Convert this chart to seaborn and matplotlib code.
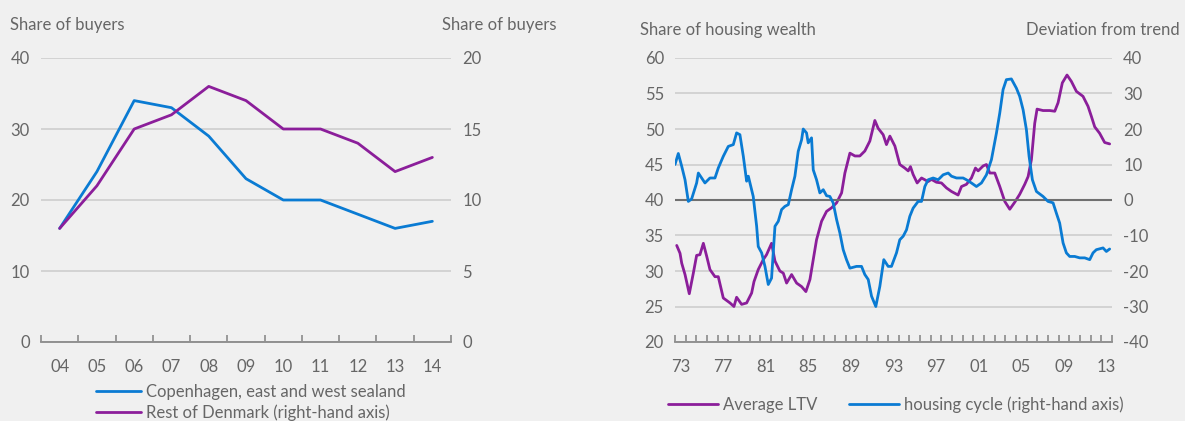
import matplotlib
matplotlib.use("Agg")
import matplotlib.pyplot as plt
import seaborn as sns
import numpy as np
import pandas as pd

sns.set_style("white")
plt.rcParams["font.family"] = ["Lato", "DejaVu Sans"]
plt.rcParams["axes.unicode_minus"] = False

BG = "#f0f0f0"
BLUE = "#0a7bd3"
PURPLE = "#8b1e9a"
TXT = "#666666"
GRID = "#d3d3d3"

# left panel: share of buyers
buyer_years = ["04", "05", "06", "07", "08", "09", "10", "11", "12", "13", "14"]
copenhagen = [16, 24, 34, 33, 29, 23, 20, 20, 18, 16, 17]
rest_of_dk = [8, 11, 15, 16, 18, 17, 15, 15, 14, 12, 13]

# right panel: average LTV (left axis)
ltv_time = [1973.16, 1973.47, 1973.63, 1973.94, 1974.34, 1974.72, 1975.03, 1975.34, 1975.66, 1975.97,
            1976.28, 1976.75, 1977.06, 1977.53, 1978.16, 1978.53, 1978.78, 1979.25, 1979.72, 1980.19,
            1980.41, 1980.81, 1981.28, 1981.59, 1982.06, 1982.38, 1982.84, 1983.16, 1983.47, 1983.94,
            1984.41, 1984.88, 1985.28, 1985.66, 1985.97, 1986.28, 1986.75, 1987.22, 1987.69, 1988.16,
            1988.63, 1988.94, 1989.41, 1989.88, 1990.34, 1990.81, 1991.28, 1991.75, 1992.06, 1992.53,
            1992.84, 1993.16, 1993.63, 1994.09, 1994.56, 1994.88, 1995.09, 1995.34, 1995.72, 1996.13,
            1996.75, 1997.06, 1997.53, 1998.0, 1998.47, 1998.94, 1999.56, 1999.88, 2000.34, 2000.81,
            2001.19, 2001.44, 2001.91, 2002.22, 2002.53, 2003.0, 2003.47, 2003.94, 2004.41, 2004.88,
            2005.34, 2005.81, 2006.13, 2006.44, 2006.75, 2006.97, 2007.53, 2008.16, 2008.63, 2008.94,
            2009.34, 2009.78, 2010.19, 2010.66, 2011.28, 2011.75, 2012.06, 2012.38, 2012.84, 2013.31,
            2013.78]
ltv = [33.6, 32.5, 31.1, 29.5, 26.8, 29.7, 32.2, 32.3, 33.9, 32.1,
       30.2, 29.2, 29.2, 26.2, 25.5, 25.0, 26.3, 25.3, 25.5, 26.9,
       28.5, 30.2, 31.6, 32.3, 33.9, 31.4, 30.0, 29.7, 28.3, 29.5,
       28.3, 27.8, 27.1, 28.8, 31.6, 34.4, 37.0, 38.4, 38.9, 39.6,
       41.0, 43.8, 46.6, 46.2, 46.2, 46.9, 48.3, 51.2, 50.1, 49.2,
       47.8, 49.0, 47.6, 45.0, 44.5, 44.1, 44.7, 43.6, 42.4, 43.1,
       42.6, 42.9, 42.5, 42.4, 41.7, 41.2, 40.7, 41.9, 42.2, 43.1,
       44.5, 44.1, 44.8, 45.0, 43.8, 43.8, 41.9, 39.8, 38.7, 39.7,
       40.8, 42.2, 43.3, 45.7, 50.8, 52.8, 52.6, 52.6, 52.5, 53.7,
       56.5, 57.6, 56.7, 55.3, 54.6, 53.2, 51.8, 50.3, 49.4, 48.1,
       47.9]

# right panel: housing cycle, deviation from trend (right axis)
cycle_time = [1973.0, 1973.31, 1973.63, 1973.94, 1974.25, 1974.56, 1975.03, 1975.19, 1975.81, 1976.28,
              1976.75, 1977.06, 1977.53, 1978.0, 1978.47, 1978.78, 1979.09, 1979.41, 1979.72, 1979.88,
              1980.34, 1980.66, 1980.81, 1981.13, 1981.44, 1981.75, 1982.06, 1982.38, 1982.69, 1983.0,
              1983.31, 1983.63, 1983.94, 1984.25, 1984.56, 1984.88, 1985.03, 1985.34, 1985.5, 1985.81,
              1985.97, 1986.28, 1986.59, 1986.91, 1987.22, 1987.53, 1987.84, 1988.16, 1988.47, 1988.78,
              1989.09, 1989.41, 1990.03, 1990.5, 1990.81, 1991.13, 1991.44, 1991.84, 1992.22, 1992.59,
              1993.0, 1993.31, 1993.78, 1994.09, 1994.41, 1994.72, 1995.03, 1995.34, 1995.81, 1996.13,
              1996.44, 1996.75, 1997.22, 1997.69, 1998.16, 1998.63, 1998.94, 1999.41, 2000.03, 2000.34,
              2000.81, 2001.28, 2001.75, 2002.22, 2002.69, 2003.16, 2003.47, 2003.78, 2004.09, 2004.56,
              2005.03, 2005.34, 2005.66, 2005.97, 2006.22, 2006.53, 2006.91, 2007.53, 2008.0, 2008.47,
              2008.78, 2009.09, 2009.41, 2009.72, 2010.03, 2010.5, 2010.97, 2011.44, 2011.91, 2012.22,
              2012.53, 2013.16, 2013.47, 2013.78]
cycle = [10.0, 13.1, 9.5, 5.7, -0.4, 0.3, 4.8, 7.6, 4.8, 6.2,
         6.2, 9.0, 12.3, 15.1, 15.6, 18.9, 18.4, 12.3, 5.3, 6.7,
         1.0, -7.4, -13.1, -14.9, -18.7, -23.8, -22.0, -7.4, -6.0, -2.7,
         -1.8, -1.3, 2.9, 6.7, 13.7, 17.0, 20.0, 18.9, 16.1, 17.5,
         8.5, 5.7, 2.0, 2.9, 1.2, 1.0, -0.8, -5.5, -9.3, -14.0,
         -16.8, -19.2, -18.7, -18.7, -21.0, -22.4, -27.1, -30.0, -24.3, -16.8,
         -18.7, -18.7, -14.9, -11.2, -10.2, -8.4, -4.6, -2.3, -0.4, -0.4,
         3.8, 5.7, 6.2, 5.7, 7.1, 7.6, 6.7, 6.2, 6.2, 5.7,
         4.8, 3.8, 4.8, 7.1, 11.4, 18.9, 24.5, 31.1, 33.9, 34.1,
         31.5, 29.2, 25.4, 19.8, 12.3, 5.7, 2.4, 1.0, -0.4, -0.8,
         -3.7, -6.5, -12.1, -14.9, -15.9, -15.9, -16.3, -16.3, -16.8, -14.9,
         -14.0, -13.5, -14.5, -13.8]

label_years = [1973, 1977, 1981, 1985, 1989, 1993, 1997, 2001, 2005, 2009, 2013]

fig = plt.figure(figsize=(11.85, 4.21), dpi=100, facecolor=BG)
W, H = 1185, 421


def box(x0, y0, x1, y1):
    return [x0 / W, 1 - y1 / H, (x1 - x0) / W, (y1 - y0) / H]


def style(ax, twin):
    for a in (ax, twin):
        a.set_facecolor(BG)
        for s in ["top", "left", "right", "bottom"]:
            a.spines[s].set_visible(False)
        a.tick_params(axis="y", length=0, labelsize=12, labelcolor=TXT, pad=8)
    twin.tick_params(axis="x", which="both", bottom=False, top=False, labelbottom=False)
    ax.spines["bottom"].set_visible(True)
    ax.spines["bottom"].set_color("#8a8a8a")
    ax.spines["bottom"].set_linewidth(1.3)
    ax.yaxis.grid(True, color=GRID, linewidth=1.4)
    ax.set_axisbelow(True)
    ax.tick_params(axis="x", which="major", bottom=True, length=0, labelsize=12,
                   labelcolor=TXT, pad=12)
    ax.tick_params(axis="x", which="minor", bottom=True, direction="in", length=5,
                   width=1.2, color="#8a8a8a")
    twin.patch.set_visible(False)


# ---- left panel
ax1 = fig.add_axes(box(41, 58, 451, 342))
ax1b = ax1.twinx()
xpos = np.arange(len(buyer_years))
df_left = pd.DataFrame({"x": xpos, "cph": copenhagen, "rest": rest_of_dk})
sns.lineplot(data=df_left, x="x", y="cph", ax=ax1, color=BLUE, linewidth=2.0, legend=False)
sns.lineplot(data=df_left, x="x", y="rest", ax=ax1b, color=PURPLE, linewidth=2.0, legend=False)
ax1.set_xlim(-0.5, len(buyer_years) - 0.5)
ax1.set_ylim(0, 40)
ax1b.set_ylim(0, 20)
ax1.set_yticks([0, 10, 20, 30, 40])
ax1b.set_yticks([0, 5, 10, 15, 20])
ax1.set_xticks(xpos)
ax1.set_xticklabels(buyer_years)
ax1.set_xticks(np.arange(-0.5, len(buyer_years)), minor=True)
style(ax1, ax1b)
for a in (ax1, ax1b):
    a.set_xlabel("")
    a.set_ylabel("")

fig.text(10 / W, 1 - 25 / H, "Share of buyers", fontsize=12, color=TXT, va="center", ha="left")
fig.text(556 / W, 1 - 25 / H, "Share of buyers", fontsize=12, color=TXT, va="center", ha="right")

h1 = ax1.get_lines() + ax1b.get_lines()
fig.legend(h1, ["Copenhagen, east and west sealand", "Rest of Denmark (right-hand axis)"],
           loc="upper left", bbox_to_anchor=(96 / W, 1 - 384 / H), frameon=False,
           fontsize=12, labelcolor=TXT, handlelength=2.7, handletextpad=0.3,
           labelspacing=0.25, borderaxespad=0, borderpad=0)

# ---- right panel
ax2 = fig.add_axes(box(675, 58, 1112, 342))
ax2b = ax2.twinx()
df_ltv = pd.DataFrame({"t": ltv_time, "v": ltv})
df_cyc = pd.DataFrame({"t": cycle_time, "v": cycle})
ax2b.axhline(0, color="#707070", linewidth=1.5, zorder=1)
sns.lineplot(data=df_ltv, x="t", y="v", ax=ax2, color=PURPLE, linewidth=2.0, zorder=3)
sns.lineplot(data=df_cyc, x="t", y="v", ax=ax2b, color=BLUE, linewidth=2.0, zorder=3)
ax2.set_xlim(1973, 2014)
ax2.set_ylim(20, 60)
ax2b.set_ylim(-40, 40)
ax2.set_yticks(range(20, 61, 5))
ax2b.set_yticks(range(-40, 41, 10))
ax2.set_xticks([y + 0.5 for y in label_years])
ax2.set_xticklabels([str(y)[2:] for y in label_years])
ax2.set_xticks(range(1973, 2015), minor=True)
style(ax2, ax2b)
for a in (ax2, ax2b):
    a.set_xlabel("")
    a.set_ylabel("")
ax2.set_zorder(0)
ax2b.set_zorder(1)

fig.text(640 / W, 1 - 30 / H, "Share of housing wealth", fontsize=12, color=TXT, va="center", ha="left")
fig.text(1180 / W, 1 - 30 / H, "Deviation from trend", fontsize=12, color=TXT, va="center", ha="right")

h2 = ax2.get_lines()[:1] + [l for l in ax2b.get_lines() if l.get_color() == BLUE]
fig.legend(h2, ["Average LTV", "housing cycle (right-hand axis)"],
           loc="center left", bbox_to_anchor=(668 / W, 1 - 405 / H), frameon=False, ncol=2,
           fontsize=12, labelcolor=TXT, handlelength=3.0, handletextpad=0.3,
           columnspacing=1.9, borderaxespad=0, borderpad=0)

fig.savefig("out.png", dpi=100, facecolor=BG)
